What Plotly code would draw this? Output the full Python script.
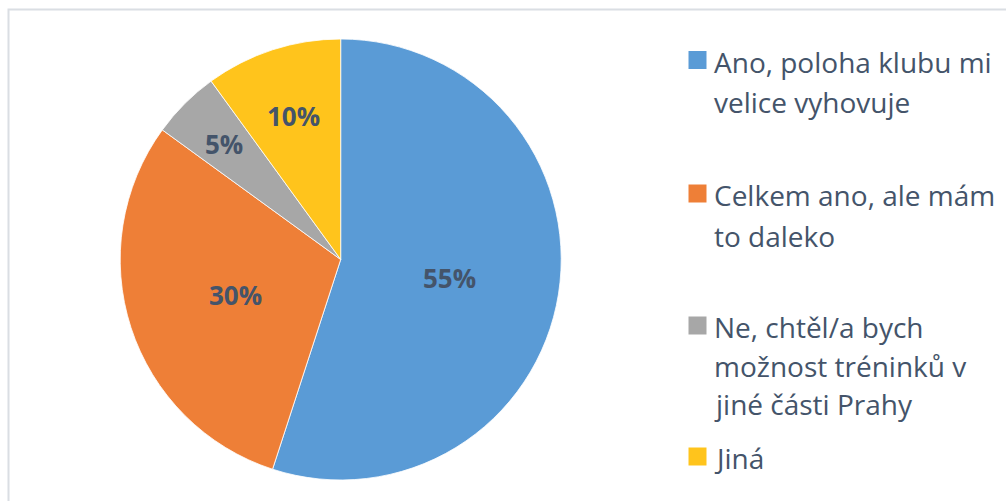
import math
import plotly.graph_objects as go

# Survey answers and their shares (%)
categories = [
    "Ano, poloha klubu mi velice vyhovuje",
    "Celkem ano, ale mám to daleko",
    "Ne, chtěl/a bych možnost tréninků v jiné části Prahy",
    "Jiná",
]
values = [55, 30, 5, 10]
legend_lines = [
    ["Ano, poloha klubu mi", "velice vyhovuje"],
    ["Celkem ano, ale mám", "to daleko"],
    ["Ne, chtěl/a bych", "možnost tréninků v", "jiné části Prahy"],
    ["Jiná"],
]
colors = ["#5A9BD6", "#EE7F37", "#A7A7A7", "#FFC41C"]

W, H = 1006, 501
TEXT_COLOR = "#44546A"
FONT = "Open Sans"


def px(x):
    return x / W


def py(y):
    return 1 - y / H


# Pie geometry (pixels)
cx, cy, r = 340.7, 259.5, 220.5
# radial position of each data label, as a fraction of the radius
label_radius = [0.5, 0.5, 0.75, 0.69]

fig = go.Figure(
    go.Pie(
        labels=categories,
        values=values,
        sort=False,
        direction="clockwise",
        rotation=0,
        marker=dict(colors=colors, line=dict(color="white", width=0.8)),
        textinfo="none",
        domain=dict(x=[px(cx - r), px(cx + r)], y=[py(cy + r), py(cy - r)]),
        showlegend=False,
        hoverinfo="label+percent",
    )
)

shapes = [
    # chart frame
    dict(type="rect", xref="paper", yref="paper",
         x0=px(8.5), x1=px(1012), y0=py(9.5), y1=py(510),
         line=dict(color="#DADEE3", width=2), fillcolor="rgba(0,0,0,0)", layer="below"),
]
annotations = []

# Percentage labels placed at each slice's mid-angle (clockwise from 12 o'clock)
total = sum(values)
acc = 0
for v, fr in zip(values, label_radius):
    mid = (acc + v / 2) / total * 2 * math.pi
    acc += v
    lx = cx + fr * r * math.sin(mid)
    ly = cy - fr * r * math.cos(mid)
    annotations.append(dict(
        xref="paper", yref="paper", x=px(lx), y=py(ly + 1),
        xanchor="center", yanchor="middle", showarrow=False,
        text=f"{round(v / total * 100)}%",
        font=dict(family=FONT, size=26, color=TEXT_COLOR, weight="bold"),
    ))

# Hand-built legend: colour square + wrapped text lines
entry_top = [60.5, 194, 326, 457]  # vertical centre of the first text line (px)
line_gap = [40.5, 40.5, 38.5, 40]
sq_x0, sq_size, text_x = 688.5, 18, 712
for i, lines in enumerate(legend_lines):
    yc = entry_top[i]
    shapes.append(dict(type="rect", xref="paper", yref="paper",
                       x0=px(sq_x0), x1=px(sq_x0 + sq_size),
                       y0=py(yc + 8.5), y1=py(yc - 9.5),
                       line=dict(width=0), fillcolor=colors[i]))
    for j, t in enumerate(lines):
        annotations.append(dict(
            xref="paper", yref="paper", x=px(text_x), y=py(yc + j * line_gap[i] + 1),
            xanchor="left", yanchor="middle", showarrow=False, text=t,
            font=dict(family=FONT, size=28, color=TEXT_COLOR),
        ))

fig.update_layout(
    width=W, height=H,
    margin=dict(l=0, r=0, t=0, b=0),
    paper_bgcolor="white",
    plot_bgcolor="white",
    shapes=shapes,
    annotations=annotations,
)

fig.write_html("out.html")
